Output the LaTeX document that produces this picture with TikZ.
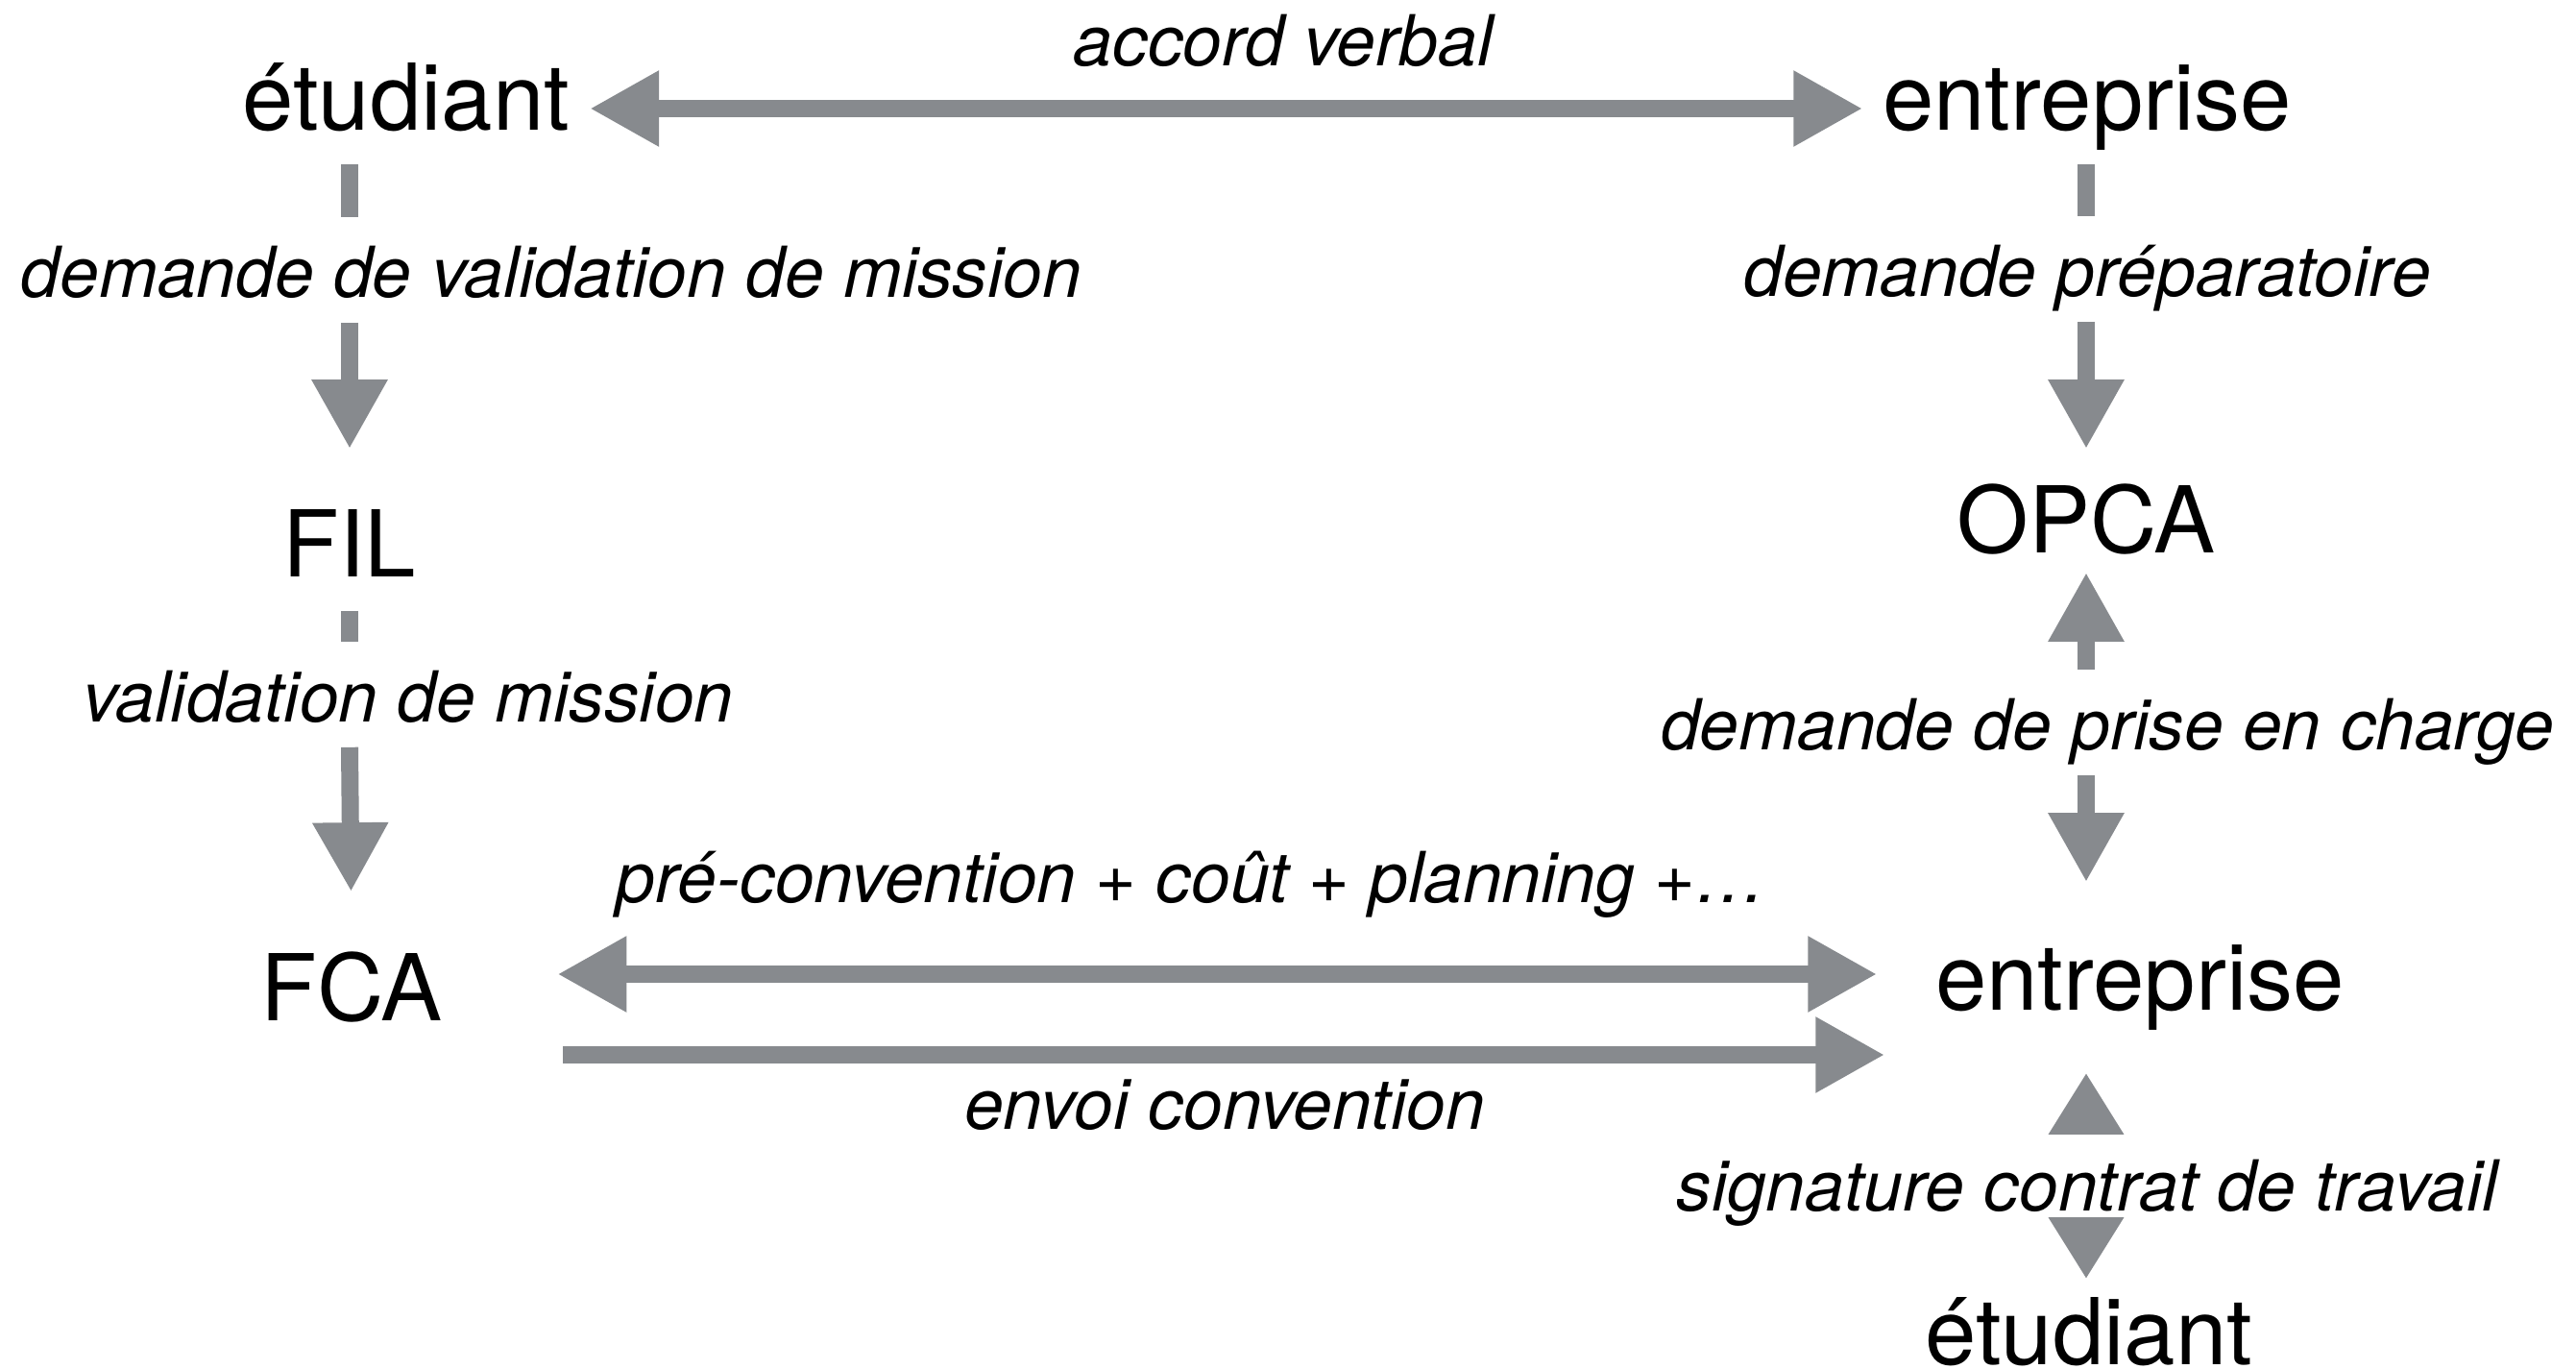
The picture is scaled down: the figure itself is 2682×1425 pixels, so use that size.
\documentclass[tikz,border=0pt]{standalone}
\usepackage{fontspec}
\setmainfont{TeX Gyre Heros}
\usetikzlibrary{arrows.meta}
\definecolor{flowgray}{RGB}{135,138,142}

\begin{document}
\begin{tikzpicture}[x=0.25pt, y=-0.25pt,
  actor/.style={anchor=base, font=\fontsize{24pt}{28pt}\selectfont, text height=17pt, text depth=6pt, inner xsep=5pt, inner ysep=2.75pt},
  msg/.style={anchor=base, font=\fontsize{18.3pt}{22pt}\selectfont\itshape, text height=18pt, text depth=4pt, inner xsep=3pt, inner ysep=2.5pt},
  bar/.style={draw=flowgray, line width=4.5pt},
  flow/.style={bar, -{Triangle[length=18pt, width=18.5pt]}},
  backflow/.style={bar, {Triangle[length=18pt, width=18.5pt]}-},
  twoway/.style={bar, {Triangle[length=18pt, width=18.5pt]}-{Triangle[length=18pt, width=18.5pt]}}]
\useasboundingbox (0,0) rectangle (2682,1425);

% Actors
\node[actor] (etu1) at (423,135) {étudiant};
\node[actor] (ent1) at (2173,135) {entreprise};
\node[actor] (fil) at (364,600) {FIL};
\node[actor] (opca) at (2172,575) {OPCA};
\node[actor] (fca) at (366,1062) {FCA};
\node[actor] (ent2) at (2228,1051) {entreprise};
\node[actor] (etu2) at (2175,1420) {étudiant};

% Messages
\node[msg] (verbal) at (1336,68) {accord verbal};
\node[msg] (valreq) at (574,309) {demande de validation de mission};
\node[msg] (prep) at (2173,308) {demande préparatoire};
\node[msg] (valid) at (425,751) {validation de mission};
\node[msg] (charge) at (2194,780) {demande de prise en charge};
\node[msg] (contrat) at (2173,1260) {signature contrat de travail};
\node[msg] (precon) at (1240,939) {pré-convention + coût + planning +…};
\node[msg] (envoi) at (1275,1175) {envoi convention};

% Left column
\draw[twoway] (etu1) -- (ent1);
\draw[bar] (etu1.south -| fil) -- (valreq.north -| fil);
\draw[flow, shorten >=13.25pt] (valreq.south -| fil) -- (fil.north);
\draw[bar] (fil.south) -- (valid.north -| fil);
\draw[flow, shorten >=13.5pt] (valid.south -| fil) -- (fca.north);

% Right column
\draw[bar] (ent1.south -| opca) -- (prep.north -| opca);
\draw[flow, shorten >=7pt] (prep.south -| opca) -- (opca.north);
\draw[flow, shorten >=-3.75pt] (charge.north -| opca) -- (opca.south);
\draw[flow, shorten >=13.25pt] (charge.south -| opca) -- (ent2.north -| opca);
\draw[flow, -{Triangle[length=16pt, width=18.5pt]}, shorten >=7.5pt] (contrat.north -| opca) -- (ent2.south -| opca);
\draw[flow, -{Triangle[length=16pt, width=18.5pt]}, shorten >=2.25pt] (contrat.south -| opca) -- (etu2.north -| opca);

% FCA <-> entreprise
\draw[twoway] ([shift={(99,-26)}]fca.east) -- ([shift={(-40,-15)}]ent2.west);
\draw[flow] ([shift={(105,58)}]fca.east) -- ([shift={(-32,69)}]ent2.west);
\end{tikzpicture}
\end{document}
